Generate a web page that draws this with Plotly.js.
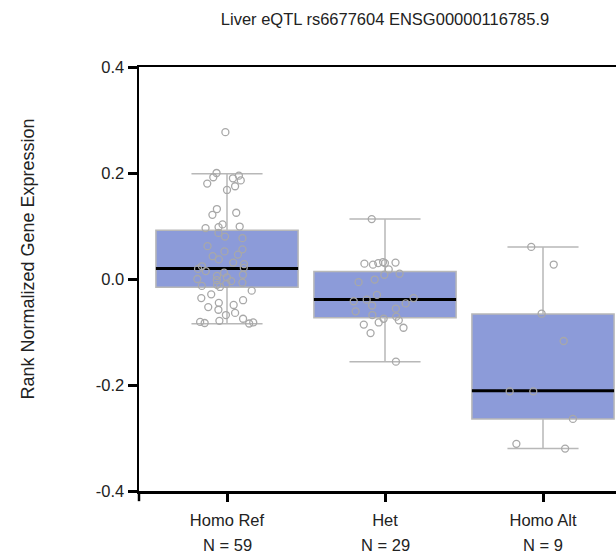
<!DOCTYPE html>
<html>
<head>
<meta charset="utf-8">
<script src="https://cdn.plot.ly/plotly-3.0.1.min.js"></script>
<style>
  html, body { margin: 0; padding: 0; overflow: hidden; background: #fff; }
  #chart { width: 650px; height: 556px; }
</style>
</head>
<body>
<div id="chart"></div>
<script>
// ---- data ----
const categories = ['Homo Ref', 'Het', 'Homo Alt'];
const counts = [59, 29, 9];

const q1 = [-0.0154, -0.073, -0.264];
const median = [0.0198, -0.0386, -0.211];
const q3 = [0.092, 0.014, -0.066];
const lowerWhisker = [-0.0844, -0.156, -0.320];
const upperWhisker = [0.1986, 0.113, 0.0606];

const homoRefPoints = [
  0.277, 0.200, 0.195, 0.192, 0.190, 0.186, 0.180, 0.175, 0.168, 0.132,
  0.125, 0.121, 0.103, 0.099, 0.098, 0.096, 0.087, 0.080, 0.077, 0.062,
  0.056, 0.052, 0.046, 0.043, 0.037, 0.031, 0.028, 0.024, 0.021, 0.019,
  0.015, 0.012, 0.008, 0.006, 0.003, 0.000, -0.002, -0.004, -0.007, -0.009,
  -0.011, -0.013, -0.015, -0.022, -0.029, -0.036, -0.040, -0.045, -0.049, -0.053,
  -0.058, -0.064, -0.068, -0.075, -0.079, -0.081, -0.082, -0.083, -0.084
];
const hetPoints = [
  0.113, 0.032, 0.031, 0.030, 0.030, 0.029, 0.027, 0.018, 0.010, 0.008,
  -0.001, -0.006, -0.030, -0.036, -0.039, -0.042, -0.046, -0.050, -0.056, -0.061,
  -0.068, -0.071, -0.075, -0.078, -0.082, -0.086, -0.092, -0.102, -0.156
];
const homoAltPoints = [0.0606, 0.0273, -0.0655, -0.117, -0.212, -0.212, -0.264, -0.311, -0.320];

const yTickVals = [-0.4, -0.2, 0.0, 0.2, 0.4];
const yTickText = ['-0.4', '-0.2', '0.0', '0.2', '0.4'];

// ---- styles ----
const FONT = 'Liberation Sans, Arial, Helvetica, sans-serif';
const TEXT = '#222222';
const BOX_FILL = '#8c9bd9';
const BOX_LINE = '#b8b8b8';
const POINT = '#a8a8a8';
const BOX_W = 0.9;

const pointGroups = [homoRefPoints, hetPoints, homoAltPoints];

const traces = [
  {
    type: 'box',
    x: categories,
    q1: q1, median: median, q3: q3,
    lowerfence: lowerWhisker, upperfence: upperWhisker,
    width: BOX_W,
    fillcolor: BOX_FILL,
    line: { color: BOX_LINE, width: 1.5 },
    whiskerwidth: 0.5,
    boxpoints: false,
    hoverinfo: 'skip',
    showlegend: false
  },
  {
    type: 'box',
    x: categories,
    q1: median, median: median, q3: median,
    lowerfence: median, upperfence: median,
    width: BOX_W,
    fillcolor: 'rgba(0,0,0,0)',
    line: { color: '#000000', width: 3 },
    whiskerwidth: 0,
    boxpoints: false,
    hoverinfo: 'skip',
    showlegend: false
  }
];

pointGroups.forEach(function (vals, i) {
  traces.push({
    type: 'box',
    x: vals.map(function () { return categories[i]; }),
    y: vals,
    width: BOX_W,
    boxpoints: 'all',
    jitter: 0.6,
    pointpos: 0,
    fillcolor: 'rgba(0,0,0,0)',
    line: { color: 'rgba(0,0,0,0)', width: 0 },
    marker: { symbol: 'circle-open', size: 7, color: POINT, line: { width: 1.3 } },
    hoveron: 'points',
    showlegend: false
  });
});

const annotations = categories.map(function (c, i) {
  return {
    x: c, xref: 'x',
    y: -0.128, yref: 'paper',
    yanchor: 'middle', xanchor: 'center',
    text: 'N = ' + counts[i],
    showarrow: false,
    font: { family: FONT, size: 16.5, color: TEXT }
  };
});
annotations.push({
  x: -0.2256, xref: 'paper',
  y: 0.546, yref: 'paper',
  xanchor: 'center', yanchor: 'middle',
  textangle: -90,
  text: 'Rank Normalized Gene Expression',
  showarrow: false,
  font: { family: FONT, size: 18, color: TEXT }
});

const layout = {
  width: 650,
  height: 556,
  margin: { l: 139, r: 19, t: 67, b: 65 },
  paper_bgcolor: '#ffffff',
  plot_bgcolor: '#ffffff',
  showlegend: false,
  boxmode: 'overlay',
  title: {
    text: 'Liver eQTL rs6677604 ENSG00000116785.9',
    font: { family: FONT, size: 16.5, color: TEXT },
    x: 0.5, xref: 'paper', xanchor: 'center',
    y: 1 - 19 / 556, yref: 'container', yanchor: 'middle'
  },
  xaxis: {
    type: 'category',
    range: [-0.557, 2.557],
    showgrid: false, zeroline: false,
    showline: true, linecolor: '#000', linewidth: 2.5, mirror: true,
    ticks: 'outside', ticklen: 8, tickwidth: 3, tickcolor: '#000',
    ticklabelstandoff: 5,
    tickfont: { family: FONT, size: 16.5, color: TEXT },
    fixedrange: true
  },
  yaxis: {
    range: [-0.4, 0.4],
    tickmode: 'array', tickvals: yTickVals, ticktext: yTickText,
    showgrid: false, zeroline: false,
    showline: true, linecolor: '#000', linewidth: 2.5, mirror: true,
    ticks: 'outside', ticklen: 9, tickwidth: 3, tickcolor: '#000',
    tickfont: { family: FONT, size: 16.5, color: TEXT },
    fixedrange: true
  },
  annotations: annotations,
  shapes: [{
    type: 'line', xref: 'paper', yref: 'paper',
    x0: 0, x1: 0, y0: 0, y1: -0.024,
    line: { color: '#000', width: 2.5 }
  }]
};

Plotly.newPlot('chart', traces, layout, { displayModeBar: false, staticPlot: true });
</script>
</body>
</html>
